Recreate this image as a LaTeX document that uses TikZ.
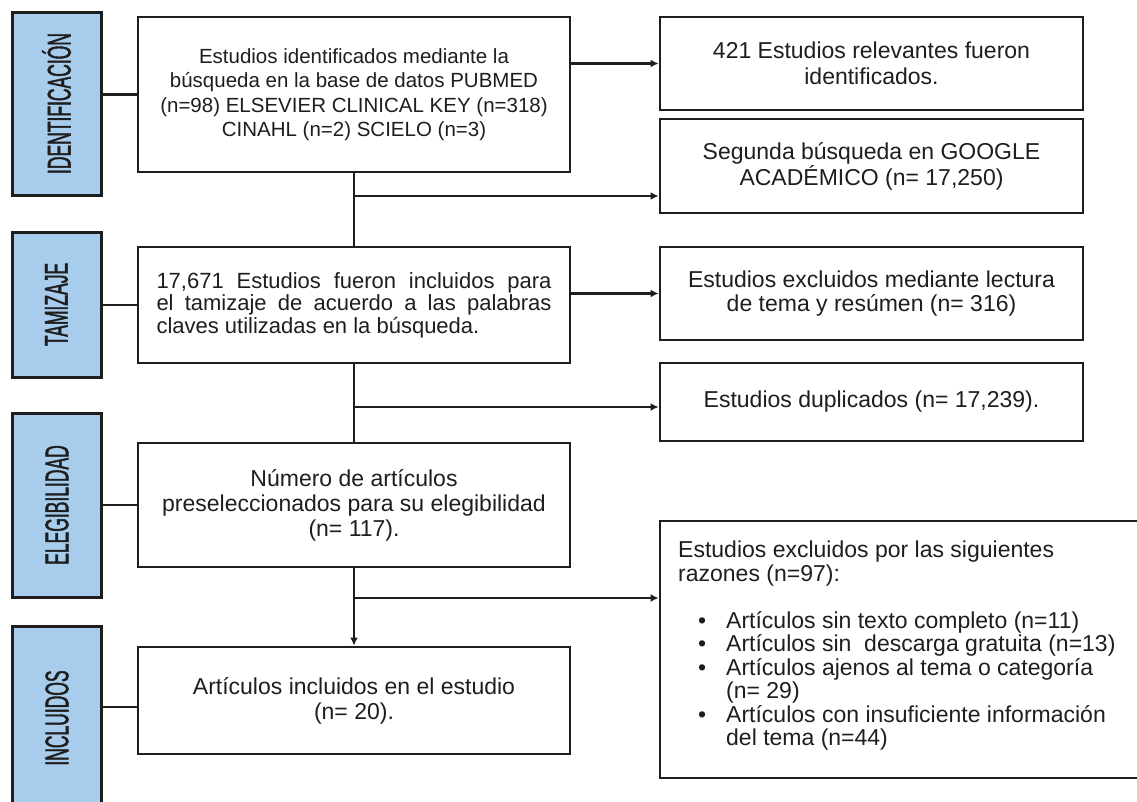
\documentclass[tikz,border=0pt]{standalone}
\usepackage{fontspec}
\setmainfont{Liberation Sans}
\newfontfamily\labfont[FakeStretch=0.53,FakeBold=1.2]{Liberation Sans}
\usetikzlibrary{arrows.meta,calc}
\definecolor{lblue}{RGB}{168,204,236}
\definecolor{ink}{RGB}{30,30,30}
\begin{document}
\begin{tikzpicture}[x=1pt,y=-1pt,
  box/.style={draw=ink, line width=2.9pt, fill=white, inner sep=0pt, text=ink, align=center},
  lab/.style={draw=ink, line width=3pt, fill=lblue, inner sep=0pt, minimum width=89pt, text=ink},
  conn/.style={draw=ink, line width=2.4pt},
  arr/.style={conn, -{Latex[length=8pt,width=8pt]}},
  labtxt/.style={font=\labfont\fontsize{33}{33}\selectfont}
]
\useasboundingbox (0,0) rectangle (1137,801);
\clip (0,0) rectangle (1137,801);

% phase labels
\node[lab, minimum height=183pt, labtxt] (l1) at (56.5,103.5) {\rotatebox{90}{IDENTIFICACIÓN}};
\node[lab, minimum height=145pt, labtxt] (l2) at (56.5,304.5) {\rotatebox{90}{TAMIZAJE}};
\node[lab, minimum height=184pt, labtxt] (l3) at (57,505) {\rotatebox{90}{ELEGIBILIDAD}};
\node[lab, minimum height=184pt, labtxt] (l4) at (57,718) {\rotatebox{90}{INCLUIDOS}};

% main column
\node[box, minimum width=432pt, minimum height=155pt, font=\fontsize{20.5}{24.5}\selectfont] (b1) at (354,94.5)
  {Estudios identificados mediante la\\búsqueda en la base de datos PUBMED\\(n=98) ELSEVIER CLINICAL KEY (n=318)\\CINAHL (n=2) SCIELO (n=3)};
\node[box, minimum width=432pt, minimum height=116pt, font=\fontsize{22}{22.5}\selectfont] (b2) at (354,305)
  {\parbox{395pt}{\parindent=0pt 17,671 Estudios fueron incluidos para\linebreak el tamizaje de acuerdo a las palabras\linebreak claves utilizadas en la búsqueda.}};
\node[box, minimum width=432pt, minimum height=124pt, font=\fontsize{23}{25}\selectfont] (b3) at (354,505)
  {Número de artículos\\preseleccionados para su elegibilidad\\(n= 117).};
\node[box, minimum width=432pt, minimum height=107pt, font=\fontsize{23}{25}\selectfont] (b4) at (354,700.5)
  {Artículos incluidos en el estudio\\(n= 20).};

% right column
\node[box, minimum width=423pt, minimum height=93pt, font=\fontsize{23}{26}\selectfont] (r1) at (871.5,63.5)
  {421 Estudios relevantes fueron\\identificados.};
\node[box, minimum width=423pt, minimum height=94pt, font=\fontsize{23}{26}\selectfont] (r2) at (871.5,166)
  {Segunda búsqueda en GOOGLE\\ACADÉMICO (n= 17,250)};
\node[box, minimum width=423pt, minimum height=93pt, font=\fontsize{23}{24.5}\selectfont] (r3) at (871.5,293.5)
  {Estudios excluidos mediante lectura\\de tema y resúmen (n= 316)};
\node[box, minimum width=423pt, minimum height=78pt, font=\fontsize{23}{25}\selectfont] (r4) at (871.5,402)
  {Estudios duplicados (n= 17,239).};
\node[box, minimum width=485pt, minimum height=257pt] (r5) at (902.5,649.5) {};
\node[anchor=north west, inner sep=0pt, align=left, text=ink, font=\fontsize{23}{23.5}\selectfont] (r5t) at (678,541)
  {Estudios excluidos por las siguientes\\
   razones (n=97):\\[23.5pt]
   \hspace*{20pt}\makebox[28pt][l]{•}Artículos sin texto completo (n=11)\\
   \hspace*{20pt}\makebox[28pt][l]{•}Artículos sin\ \ descarga gratuita (n=13)\\
   \hspace*{20pt}\makebox[28pt][l]{•}Artículos ajenos al tema o categoría\\
   \hspace*{48pt}(n= 29)\\
   \hspace*{20pt}\makebox[28pt][l]{•}Artículos con insuficiente información\\
   \hspace*{48pt}del tema (n=44)};

% junction coordinates
\coordinate (j1) at (0,196);
\coordinate (j2) at (0,407);
\coordinate (j3) at (0,598);

% label connectors
\draw[conn] (b1.west -| l1.east) -- (b1.west);
\draw[conn] (b2.west -| l2.east) -- (b2.west);
\draw[conn] (b3.west -| l3.east) -- (b3.west);
\draw[conn] ([yshift=-6.5pt]b4.west -| l4.east) -- ([yshift=-6.5pt]b4.west);

% flow
\draw[arr] (b1.east |- r1.west) -- (r1.west);
\draw[conn] (b1.south) -- (b2.north);
\draw[arr] (j1 -| b1.south) -- (j1 -| r2.west);
\draw[arr] (b2.east |- r3.west) -- (r3.west);
\draw[conn] (b2.south) -- (b3.north);
\draw[arr] (j2 -| b2.south) -- (j2 -| r4.west);
\draw[arr] (b3.south) -- (b4.north);
\draw[arr] (j3 -| b3.south) -- (j3 -| r5.west);
\end{tikzpicture}
\end{document}
